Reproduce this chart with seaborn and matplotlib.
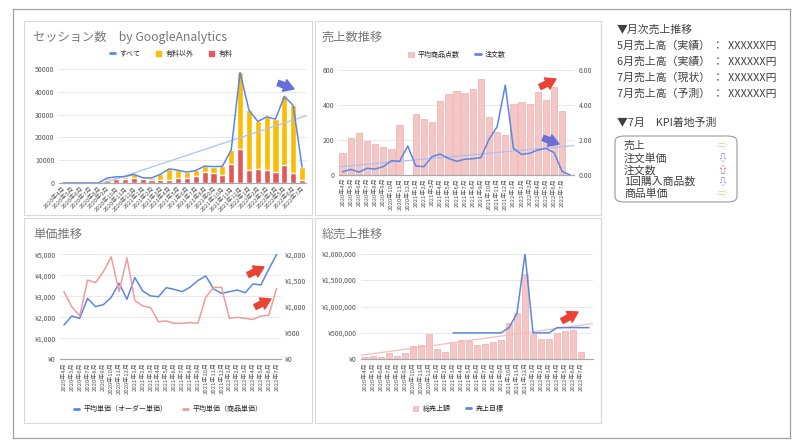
import numpy as np
import matplotlib
matplotlib.use('Agg')
import matplotlib.pyplot as plt
import matplotlib.patches as mpatches
from matplotlib.lines import Line2D
import seaborn as sns

# ========= data =========================
months = [f'{y}年{m}月' for y, m in
          [(2020, m) for m in range(4, 13)] + [(2021, m) for m in range(1, 13)] + [(2022, m) for m in range(1, 8)]]

# sessions (GoogleAnalytics)
sessions_all = [0, 0, 0, 0, 0, 2200, 2700, 2800, 3800, 2300, 2200, 3800, 6200, 5600,
                4800, 5500, 7400, 7200, 7300, 14500, 48500, 32000, 27000, 29000, 28000,
                38000, 34000, 7000]
sessions_paid = [0, 0, 0, 0, 0, 1500, 1800, 1700, 2200, 1800, 1500, 1200, 1500, 2000,
                 2200, 3000, 4800, 4600, 3700, 8500, 15000, 5800, 6300, 5800, 5000,
                 8000, 4500, 1500]

# sales count
avg_items = [124, 210, 238, 196, 177, 158, 150, 284, np.nan, 349, 318, 305, 423, 463,
             480, 467, 491, 547, 333, 244, 229, 406, 415, 408, 476, 429, 505, 368]
order_count = [0.19, 0.32, 0.17, 0.38, 0.34, 0.48, 0.82, 0.78, 1.66, 0.51, 0.48, 1.05,
               1.20, 0.95, 0.78, 0.90, 0.93, 0.99, 2.04, 2.76, 5.14, 1.52, 1.18, 1.24,
               1.43, 1.52, 1.28, 0.19, 0.00]

# unit price
order_price = [1630, 2060, 1950, 2900, 2510, 2600, 2950, 3620, 2860, 3890, 3250, 3020,
               2980, 3410, 3330, 3220, 3430, 3750, 3970, 3350, 3140, 3220, 3300, 3170,
               3590, 3540, 4290, 5000]
item_price = [1290, 1000, 825, 1510, 1460, 1670, 1950, 1290, 1930, 1120, 1015, 985,
              717, 730, 685, 685, 700, 685, 1180, 1370, 1370, 780, 800, 780, 760, 825,
              840, 1350]

# total sales
total_sales = [50000, 70000, 40000, 115000, 65000, 115000, 250000, 275000, 475000,
               190000, 145000, 330000, 365000, 345000, 265000, 290000, 330000, 365000,
               695000, 885000, 1610000, 480000, 390000, 385000, 505000, 540000, 555000,
               130000]
sales_target = [np.nan] * 11 + [500000, 500000, 500000, 500000, 500000, 500000, 500000,
                                600000, 870000, 2000000, 500000, 500000, 500000, 600000,
                                600000, 600000, 600000, 600000]

side_title = '▼月次売上推移'
side_lines = ['5月売上高（実績） ：  XXXXXX円', '6月売上高（実績） ：  XXXXXX円',
              '7月売上高（現状） ：  XXXXXX円', '7月売上高（予測） ：  XXXXXX円']
kpi_title = '▼7月　KPI着地予測'
kpi_items = ['売上', '注文単価', '注文数', '1回購入商品数', '商品単価']
kpi_marks = ['⇨', '⇩', '⇧', '⇩', '⇨']
kpi_colors = ['#c9d98f', '#7d7fd9', '#e5585a', '#7d7fd9', '#c9d98f']

# ========= style =========================
sns.set_theme(style='white')
plt.rcParams['font.family'] = ['Noto Sans CJK JP', 'DejaVu Sans']

blue = '#5b87e4'
orange = '#fbbc04'
red = '#e05a5c'
pink_bar = '#f5c6c6'
pink_edge = '#eba0a0'
pink_line = '#ef9c9c'
trend_blue = '#a9c3f0'
trend_pink = '#f6bcbc'
grid_c = '#e4e4e4'
tick_c = '#555555'
title_c = '#777777'
title_fs = 8.8

W, H = 800, 448
fig = plt.figure(figsize=(8, 4.48), dpi=100)


def rect(x0, y0, x1, y1):
    # image pixels -> figure fraction rect
    return [x0 / W, 1 - y1 / H, (x1 - x0) / W, (y1 - y0) / H]


def frame(x0, y0, x1, y1, color, lw):
    fig.add_artist(mpatches.Rectangle((x0 / W, 1 - y1 / H), (x1 - x0) / W, (y1 - y0) / H,
                                      fill=False, ec=color, lw=lw, transform=fig.transFigure))


def arrow(x0, y0, x1, y1, color):
    fig.add_artist(mpatches.FancyArrowPatch(
        (x0 / W, 1 - y0 / H), (x1 / W, 1 - y1 / H), transform=fig.transFigure,
        arrowstyle='simple,head_width=1.1,head_length=0.9,tail_width=0.5',
        fc=color, ec=color, mutation_scale=8, shrinkA=0, shrinkB=0, zorder=10))


def style_ax(ax, n_ticks, rot, ha):
    ax.set_xticks(range(n_ticks), months, rotation=rot, ha=ha, rotation_mode='anchor' if rot == 45 else 'default')
    ax.tick_params(axis='x', labelsize=4.3, colors=tick_c, length=0, pad=2)
    ax.tick_params(axis='y', labelsize=5, colors=tick_c, length=0, pad=3)
    ax.yaxis.grid(True, color=grid_c, lw=0.6)
    ax.set_axisbelow(True)
    for s in ['top', 'right', 'left']:
        ax.spines[s].set_visible(False)
    ax.spines['bottom'].set_color('#a8a8a8')
    ax.spines['bottom'].set_linewidth(0.9)
    ax.set_xlabel('')
    ax.set_ylabel('')


def trend(ax, values, xmax, color):
    x = np.arange(len(values))
    y = np.asarray(values, dtype=float)
    ok = ~np.isnan(y)
    k, b = np.polyfit(x[ok], y[ok], 1)
    xs = np.array([-0.5, xmax])
    ax.plot(xs, k * xs + b, color=color, lw=0.9, zorder=1)


# ========= frames ========================
frame(13, 9, 790, 438, '#a0a0a0', 0.9)
frame(24, 21, 312, 215, '#d8d8d8', 0.8)
frame(315, 21, 601, 215, '#d8d8d8', 0.8)
frame(24, 218, 312, 423, '#d8d8d8', 0.8)
frame(315, 218, 601, 423, '#d8d8d8', 0.8)

x28 = np.arange(28)
x29 = np.arange(29)

# ========= chart 1: sessions =============
ax1 = fig.add_axes(rect(58.5, 69, 306.5, 183))
sns.barplot(x=x28, y=sessions_all, native_scale=True, width=0.7, color=orange,
            saturation=1, errorbar=None, ax=ax1)
sns.barplot(x=x28, y=sessions_paid, native_scale=True, width=0.7, color=red,
            saturation=1, errorbar=None, ax=ax1)
trend(ax1, sessions_all, 27.5, trend_blue)
sns.lineplot(x=x28, y=sessions_all, color=blue, lw=1.1, legend=False, ax=ax1)
ax1.set_xlim(-0.5, 27.5)
ax1.set_ylim(0, 50000)
ax1.set_yticks(range(0, 50001, 10000), [str(v) for v in range(0, 50001, 10000)])
style_ax(ax1, 28, 45, 'right')
ax1.legend([Line2D([], [], color=blue, lw=2), mpatches.Patch(color=orange), mpatches.Patch(color=red)],
           ['すべて', '有料以外', '有料'], loc='center', bbox_to_anchor=(171 / W, 1 - 54 / H),
           bbox_transform=fig.transFigure, ncol=3, frameon=False, fontsize=5,
           handlelength=0.8, handleheight=0.8, columnspacing=2.2, handletextpad=0.6)
fig.text(33 / W, 1 - 37 / H, 'セッション数　by GoogleAnalytics', fontsize=title_fs, color=title_c, va='center')

# ========= chart 2: sales count ==========
ax2 = fig.add_axes(rect(338.6, 70, 574.4, 175))
sns.barplot(x=x28, y=avg_items, native_scale=True, width=0.78, color=pink_bar,
            edgecolor=pink_edge, linewidth=0.4, saturation=1, errorbar=None, ax=ax2)
ax2.set_xlim(-0.5, 28.5)
ax2.set_ylim(0, 600)
ax2.set_yticks([0, 200, 400, 600], ['0', '200', '400', '600'])
style_ax(ax2, 28, 90, 'center')
ax2r = ax2.twinx()
trend(ax2r, order_count, 28.5, trend_blue)
sns.lineplot(x=x29, y=order_count, color=blue, lw=1.1, legend=False, ax=ax2r)
ax2r.set_xlim(-0.5, 28.5)
ax2r.set_ylim(0, 6)
ax2r.set_yticks([0, 2, 4, 6], ['0.00', '2.00', '4.00', '6.00'])
ax2r.tick_params(axis='y', labelsize=5, colors=tick_c, length=0, pad=3)
ax2r.set_ylabel('')
for s in ax2r.spines.values():
    s.set_visible(False)
ax2r.legend([mpatches.Patch(fc=pink_bar, ec=pink_edge, lw=0.4), Line2D([], [], color=blue, lw=2)],
            ['平均商品点数', '注文数'], loc='center', bbox_to_anchor=(457 / W, 1 - 55 / H),
            bbox_transform=fig.transFigure, ncol=2, frameon=False, fontsize=5,
            handlelength=0.8, handleheight=0.8, columnspacing=2.2, handletextpad=0.6)
fig.text(322 / W, 1 - 37 / H, '売上数推移', fontsize=title_fs, color=title_c, va='center')

# ========= chart 3: unit price ===========
ax3 = fig.add_axes(rect(60, 254.3, 280.6, 359.3))
sns.lineplot(x=x28, y=order_price, color=blue, lw=1.1, legend=False, ax=ax3)
ax3.set_xlim(-0.5, 27.5)
ax3.set_ylim(0, 5000)
ax3.set_yticks(range(0, 5001, 1000), ['¥0', '¥1,000', '¥2,000', '¥3,000', '¥4,000', '¥5,000'])
style_ax(ax3, 28, 90, 'center')
ax3r = ax3.twinx()
sns.lineplot(x=x28, y=item_price, color=pink_line, lw=1.1, legend=False, ax=ax3r)
ax3r.set_xlim(-0.5, 27.5)
ax3r.set_ylim(0, 2000)
ax3r.set_yticks(range(0, 2001, 500), ['¥0', '¥500', '¥1,000', '¥1,500', '¥2,000'])
ax3r.tick_params(axis='y', labelsize=5, colors=tick_c, length=0, pad=3)
ax3r.set_ylabel('')
for s in ax3r.spines.values():
    s.set_visible(False)
ax3r.legend([Line2D([], [], color=blue, lw=2), Line2D([], [], color=pink_line, lw=2)],
            ['平均単価（オーダー単価）', '平均単価（商品単価）'], loc='center',
            bbox_to_anchor=(168 / W, 1 - 409 / H), bbox_transform=fig.transFigure, ncol=2,
            frameon=False, fontsize=5, handlelength=0.8, columnspacing=2.2, handletextpad=0.6)
fig.text(33 / W, 1 - 234 / H, '単価推移', fontsize=title_fs, color=title_c, va='center')

# ========= chart 4: total sales ==========
ax4 = fig.add_axes(rect(361, 253.7, 593, 359.3))
sns.barplot(x=x28, y=total_sales, native_scale=True, width=0.78, color=pink_bar,
            edgecolor=pink_edge, linewidth=0.4, saturation=1, errorbar=None, ax=ax4)
trend(ax4, total_sales, 28.5, trend_pink)
sns.lineplot(x=x29, y=sales_target, color=blue, lw=1.1, legend=False, ax=ax4)
ax4.set_xlim(-0.5, 28.5)
ax4.set_ylim(0, 2000000)
ax4.set_yticks(range(0, 2000001, 500000), ['¥0', '¥500,000', '¥1,000,000', '¥1,500,000', '¥2,000,000'])
style_ax(ax4, 28, 90, 'center')
ax4.legend([mpatches.Patch(fc=pink_bar, ec=pink_edge, lw=0.4), Line2D([], [], color=blue, lw=2)],
           ['総売上額', '売上目標'], loc='center', bbox_to_anchor=(458 / W, 1 - 409 / H),
           bbox_transform=fig.transFigure, ncol=2, frameon=False, fontsize=5,
           handlelength=0.8, handleheight=0.8, columnspacing=2.2, handletextpad=0.6)
fig.text(322 / W, 1 - 234 / H, '総売上推移', fontsize=title_fs, color=title_c, va='center')

# ========= arrows ========================
arrow(278, 83, 294, 89, '#6a6fd8')
arrow(540, 87, 556, 79, '#ea4335')
arrow(543, 138, 559, 144, '#6a6fd8')
arrow(248, 275, 264, 267, '#ea4335')
arrow(255, 307, 271, 299, '#ea4335')
arrow(562, 321, 578, 312, '#ea4335')

# ========= side panel ====================
txt_c = '#404040'
fig.text(617 / W, 1 - 30 / H, side_title, fontsize=7.8, color=txt_c, va='center')
for i, line in enumerate(side_lines):
    fig.text(617 / W, 1 - (46 + 15.7 * i) / H, line, fontsize=7.8, color=txt_c, va='center')
fig.text(617 / W, 1 - 123 / H, kpi_title, fontsize=7.8, color=txt_c, va='center')
fig.add_artist(mpatches.FancyBboxPatch((615 / W, 1 - 202 / H), 122 / W, 66 / H,
                                       boxstyle='round,pad=0,rounding_size=0.012',
                                       fc='white', ec='#9a9a9a', lw=0.8,
                                       transform=fig.transFigure))
for i, (item, mark, c) in enumerate(zip(kpi_items, kpi_marks, kpi_colors)):
    yy = 1 - (146 + 12 * i) / H
    fig.text(624 / W, yy, item, fontsize=7.8, color=txt_c, va='center')
    fig.text(722 / W, yy, mark, fontsize=7.2, color=c, va='center', ha='center')

fig.savefig('out.png', dpi=100)
